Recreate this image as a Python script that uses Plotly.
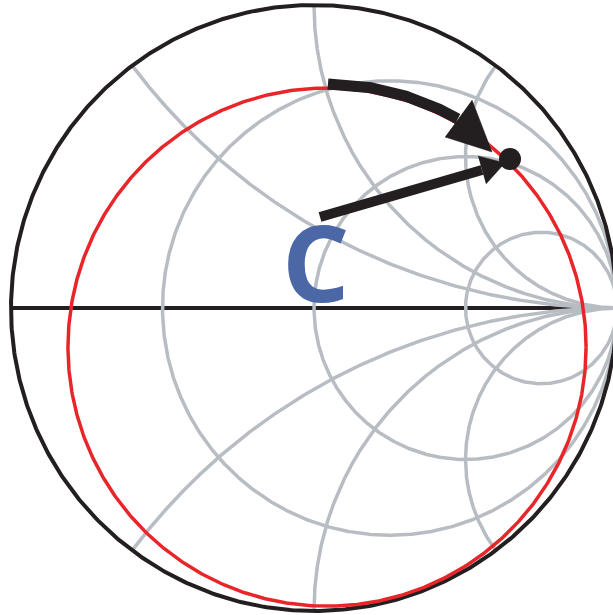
import numpy as np
import plotly.graph_objects as go

# Smith chart grid values (normalised impedance)
R_CIRCLES = [1 / 3, 1.0, 3.0]          # constant-resistance circles
X_ARCS = [0.5, 1.0, 2.0]               # constant-reactance arcs (drawn as +/-)

# Constant-|Gamma|-style locus (red) : centre and radius in the Gamma plane
RED_CENTER = (0.043, -0.129)
RED_RADIUS = 0.855

# Curved arrow travelling along the locus (angles in degrees about RED_CENTER)
CURVE_RADIUS = 0.868
CURVE_ANGLES = (89.8, 60.2)
CURVE_HEAD_X = [0.4323, 0.5875, 0.5215]
CURVE_HEAD_Y = [0.5644, 0.5149, 0.6865]

# Straight arrow from the chart centre to the marked point
LINE_ARROW_X = [0.0198, 0.5545]
LINE_ARROW_Y = [0.3003, 0.4554]
LINE_HEAD_X = [0.5413, 0.6300, 0.5677]
LINE_HEAD_Y = [0.5017, 0.4785, 0.4092]
POINT_X = [0.6469]
POINT_Y = [0.4917]

LABEL = "C"
LABEL_POS = (0.0066, 0.1545)

GRAY = "#b8bdc3"
BLACK = "#231f20"
RED = "#e8262a"
BLUE = "#4b67a5"


def gamma(z):
    return (z - 1) / (z + 1)


fig = go.Figure()

# real axis
fig.add_trace(go.Scatter(x=[-1, 1], y=[0, 0], mode="lines",
                         line=dict(color=BLACK, width=4), hoverinfo="skip"))

# resistance circles
t = np.linspace(-np.pi / 2 + 1e-4, np.pi / 2 - 1e-4, 1500)
for r in R_CIRCLES:
    g = gamma(r + 1j * np.tan(t))
    fig.add_trace(go.Scatter(x=np.r_[g.real, 1], y=np.r_[g.imag, 0], mode="lines",
                             line=dict(color=GRAY, width=3.5), hoverinfo="skip"))

# reactance arcs
s = np.linspace(0, np.pi / 2 - 1e-4, 1500)
for xv in X_ARCS:
    for sign in (1, -1):
        g = gamma(np.tan(s) + 1j * sign * xv)
        fig.add_trace(go.Scatter(x=np.r_[g.real, 1], y=np.r_[g.imag, 0], mode="lines",
                                 line=dict(color=GRAY, width=3.5), hoverinfo="skip"))

# outer boundary |Gamma| = 1
a = np.linspace(0, 2 * np.pi, 721)
fig.add_trace(go.Scatter(x=np.cos(a), y=np.sin(a), mode="lines",
                         line=dict(color=BLACK, width=4), hoverinfo="skip"))

# red locus
fig.add_trace(go.Scatter(x=RED_CENTER[0] + RED_RADIUS * np.cos(a),
                         y=RED_CENTER[1] + RED_RADIUS * np.sin(a), mode="lines",
                         line=dict(color=RED, width=3.5), hoverinfo="skip"))

# curved arrow
ang = np.radians(np.linspace(CURVE_ANGLES[0], CURVE_ANGLES[1], 200))
fig.add_trace(go.Scatter(x=RED_CENTER[0] + CURVE_RADIUS * np.cos(ang),
                         y=RED_CENTER[1] + CURVE_RADIUS * np.sin(ang), mode="lines",
                         line=dict(color=BLACK, width=11), hoverinfo="skip"))
fig.add_trace(go.Scatter(x=CURVE_HEAD_X, y=CURVE_HEAD_Y, mode="lines", fill="toself",
                         fillcolor=BLACK, line=dict(color=BLACK, width=0.5),
                         hoverinfo="skip"))

# straight arrow and point
fig.add_trace(go.Scatter(x=LINE_ARROW_X, y=LINE_ARROW_Y, mode="lines",
                         line=dict(color=BLACK, width=10), hoverinfo="skip"))
fig.add_trace(go.Scatter(x=LINE_HEAD_X, y=LINE_HEAD_Y, mode="lines", fill="toself",
                         fillcolor=BLACK, line=dict(color=BLACK, width=0.5),
                         hoverinfo="skip"))
fig.add_trace(go.Scatter(x=POINT_X, y=POINT_Y, mode="markers",
                         marker=dict(color=BLACK, size=22, line=dict(width=0)),
                         hoverinfo="skip"))

fig.add_annotation(x=LABEL_POS[0], y=LABEL_POS[1], text=LABEL, showarrow=False,
                   font=dict(family="Open Sans", size=106, color=BLUE, weight="bold"),
                   xanchor="center", yanchor="middle")

fig.update_layout(
    width=613, height=615,
    margin=dict(l=0, r=0, t=0, b=0),
    paper_bgcolor="white", plot_bgcolor="white",
    showlegend=False,
    xaxis=dict(range=[-1.0363, 0.9868], visible=False, fixedrange=True),
    yaxis=dict(range=[-1.0132, 1.0165], visible=False, fixedrange=True),
)

fig.write_html("out.html")
